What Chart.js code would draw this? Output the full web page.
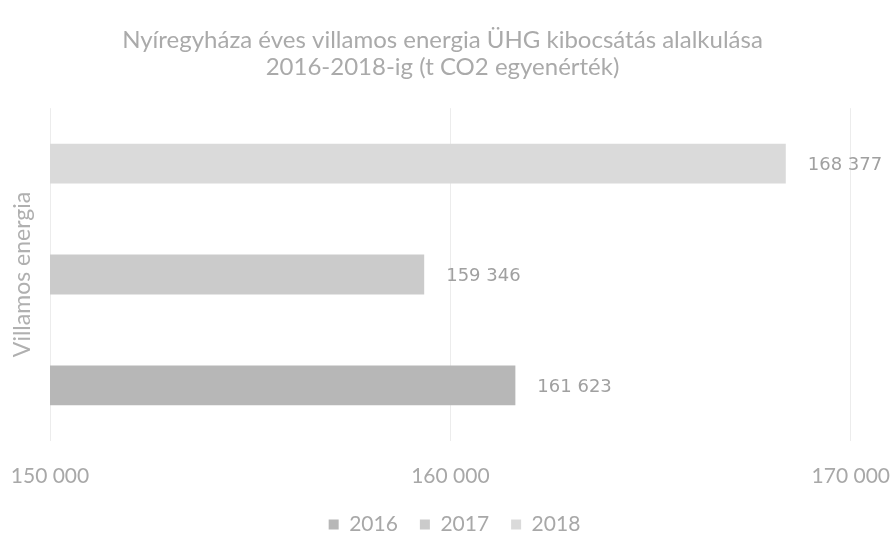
<!DOCTYPE html>
<html>
<head>
<meta charset="utf-8">
<script src="https://cdn.jsdelivr.net/npm/chart.js@4/dist/chart.umd.min.js"></script>
<style>
  html, body { margin: 0; padding: 0; background: #fff; }
  #wrap { width: 893px; height: 536px; }
</style>
</head>
<body>
<div id="wrap"><canvas id="ghgChart"></canvas></div>
<script>
// adatok
const categories = ['Villamos energia'];
const years = ['2016', '2017', '2018'];
const values2016 = [161623];
const values2017 = [159346];
const values2018 = [168377];
const xTicks = [150000, 160000, 170000];

const fmt = v => String(v).replace(/\B(?=(\d{3})+(?!\d))/g, ' ');

// értékcímkék a sávok végén
const barLabels = {
    id: 'barLabels',
    afterDatasetsDraw(chart) {
        const ctx = chart.ctx;
        ctx.save();
        ctx.font = '18px "DejaVu Sans"';
        ctx.fillStyle = '#a0a0a0';
        ctx.textBaseline = 'middle';
        chart.data.datasets.forEach((ds, i) => {
            chart.getDatasetMeta(i).data.forEach((bar, j) => {
                ctx.fillText(fmt(ds.data[j]), bar.x + 22, bar.y + 2);
            });
        });
        ctx.restore();
    }
};

// cím és jelmagyarázat kis vízszintes eltolása, mint az eredetin
const nudge = {
    id: 'nudge',
    afterLayout(chart) {
        if (chart.titleBlock) { chart.titleBlock.left -= 4; chart.titleBlock.right -= 4; }
        if (chart.legend) { chart.legend.left += 8; chart.legend.right += 8; }
    }
};

const ctx = document.getElementById('ghgChart').getContext('2d');
new Chart(ctx, {
    type: 'bar',
    data: {
        labels: categories,
        datasets: [
            { label: years[2], data: values2018, backgroundColor: '#dadada' },
            { label: years[1], data: values2017, backgroundColor: '#cbcbcb' },
            { label: years[0], data: values2016, backgroundColor: '#b7b7b7' }
        ]
    },
    options: {
        indexAxis: 'y',
        responsive: true,
        maintainAspectRatio: false,
        animation: false,
        categoryPercentage: 1,
        barPercentage: 0.36,
        layout: { padding: { left: 0, right: 0, top: 0, bottom: -9 } },
        plugins: {
            title: {
                display: true,
                text: ['Nyíregyháza éves villamos energia ÜHG kibocsátás alalkulása',
                       '2016-2018-ig (t CO2 egyenérték)'],
                color: '#aaaaaa',
                font: { family: 'Lato', size: 24, weight: 'normal', lineHeight: 1.15 },
                padding: { top: 26, bottom: 27 }
            },
            legend: {
                position: 'bottom',
                reverse: true,
                labels: {
                    color: '#a8a8a8',
                    font: { family: 'Lato', size: 21 },
                    boxWidth: 10,
                    boxHeight: 10,
                    padding: 22
                }
            },
            tooltip: { enabled: false }
        },
        scales: {
            x: {
                min: xTicks[0],
                max: xTicks[xTicks.length - 1],
                afterBuildTicks: axis => { axis.ticks = xTicks.map(v => ({ value: v })); },
                ticks: {
                    callback: v => fmt(v),
                    color: '#a8a8a8',
                    font: { family: 'Lato', size: 21 },
                    padding: 3,
                    maxRotation: 0
                },
                grid: { color: '#ececec', tickColor: 'rgba(0,0,0,0)', tickLength: 20 },
                border: { display: false }
            },
            y: {
                ticks: { display: false },
                grid: { display: false, drawTicks: false },
                border: { display: false },
                title: {
                    display: true,
                    text: categories[0],
                    color: '#b0b0b0',
                    font: { family: 'Lato', size: 23, lineHeight: 1 },
                    padding: { top: 11, bottom: 16 }
                }
            }
        }
    },
    plugins: [barLabels, nudge]
});
</script>
</body>
</html>
